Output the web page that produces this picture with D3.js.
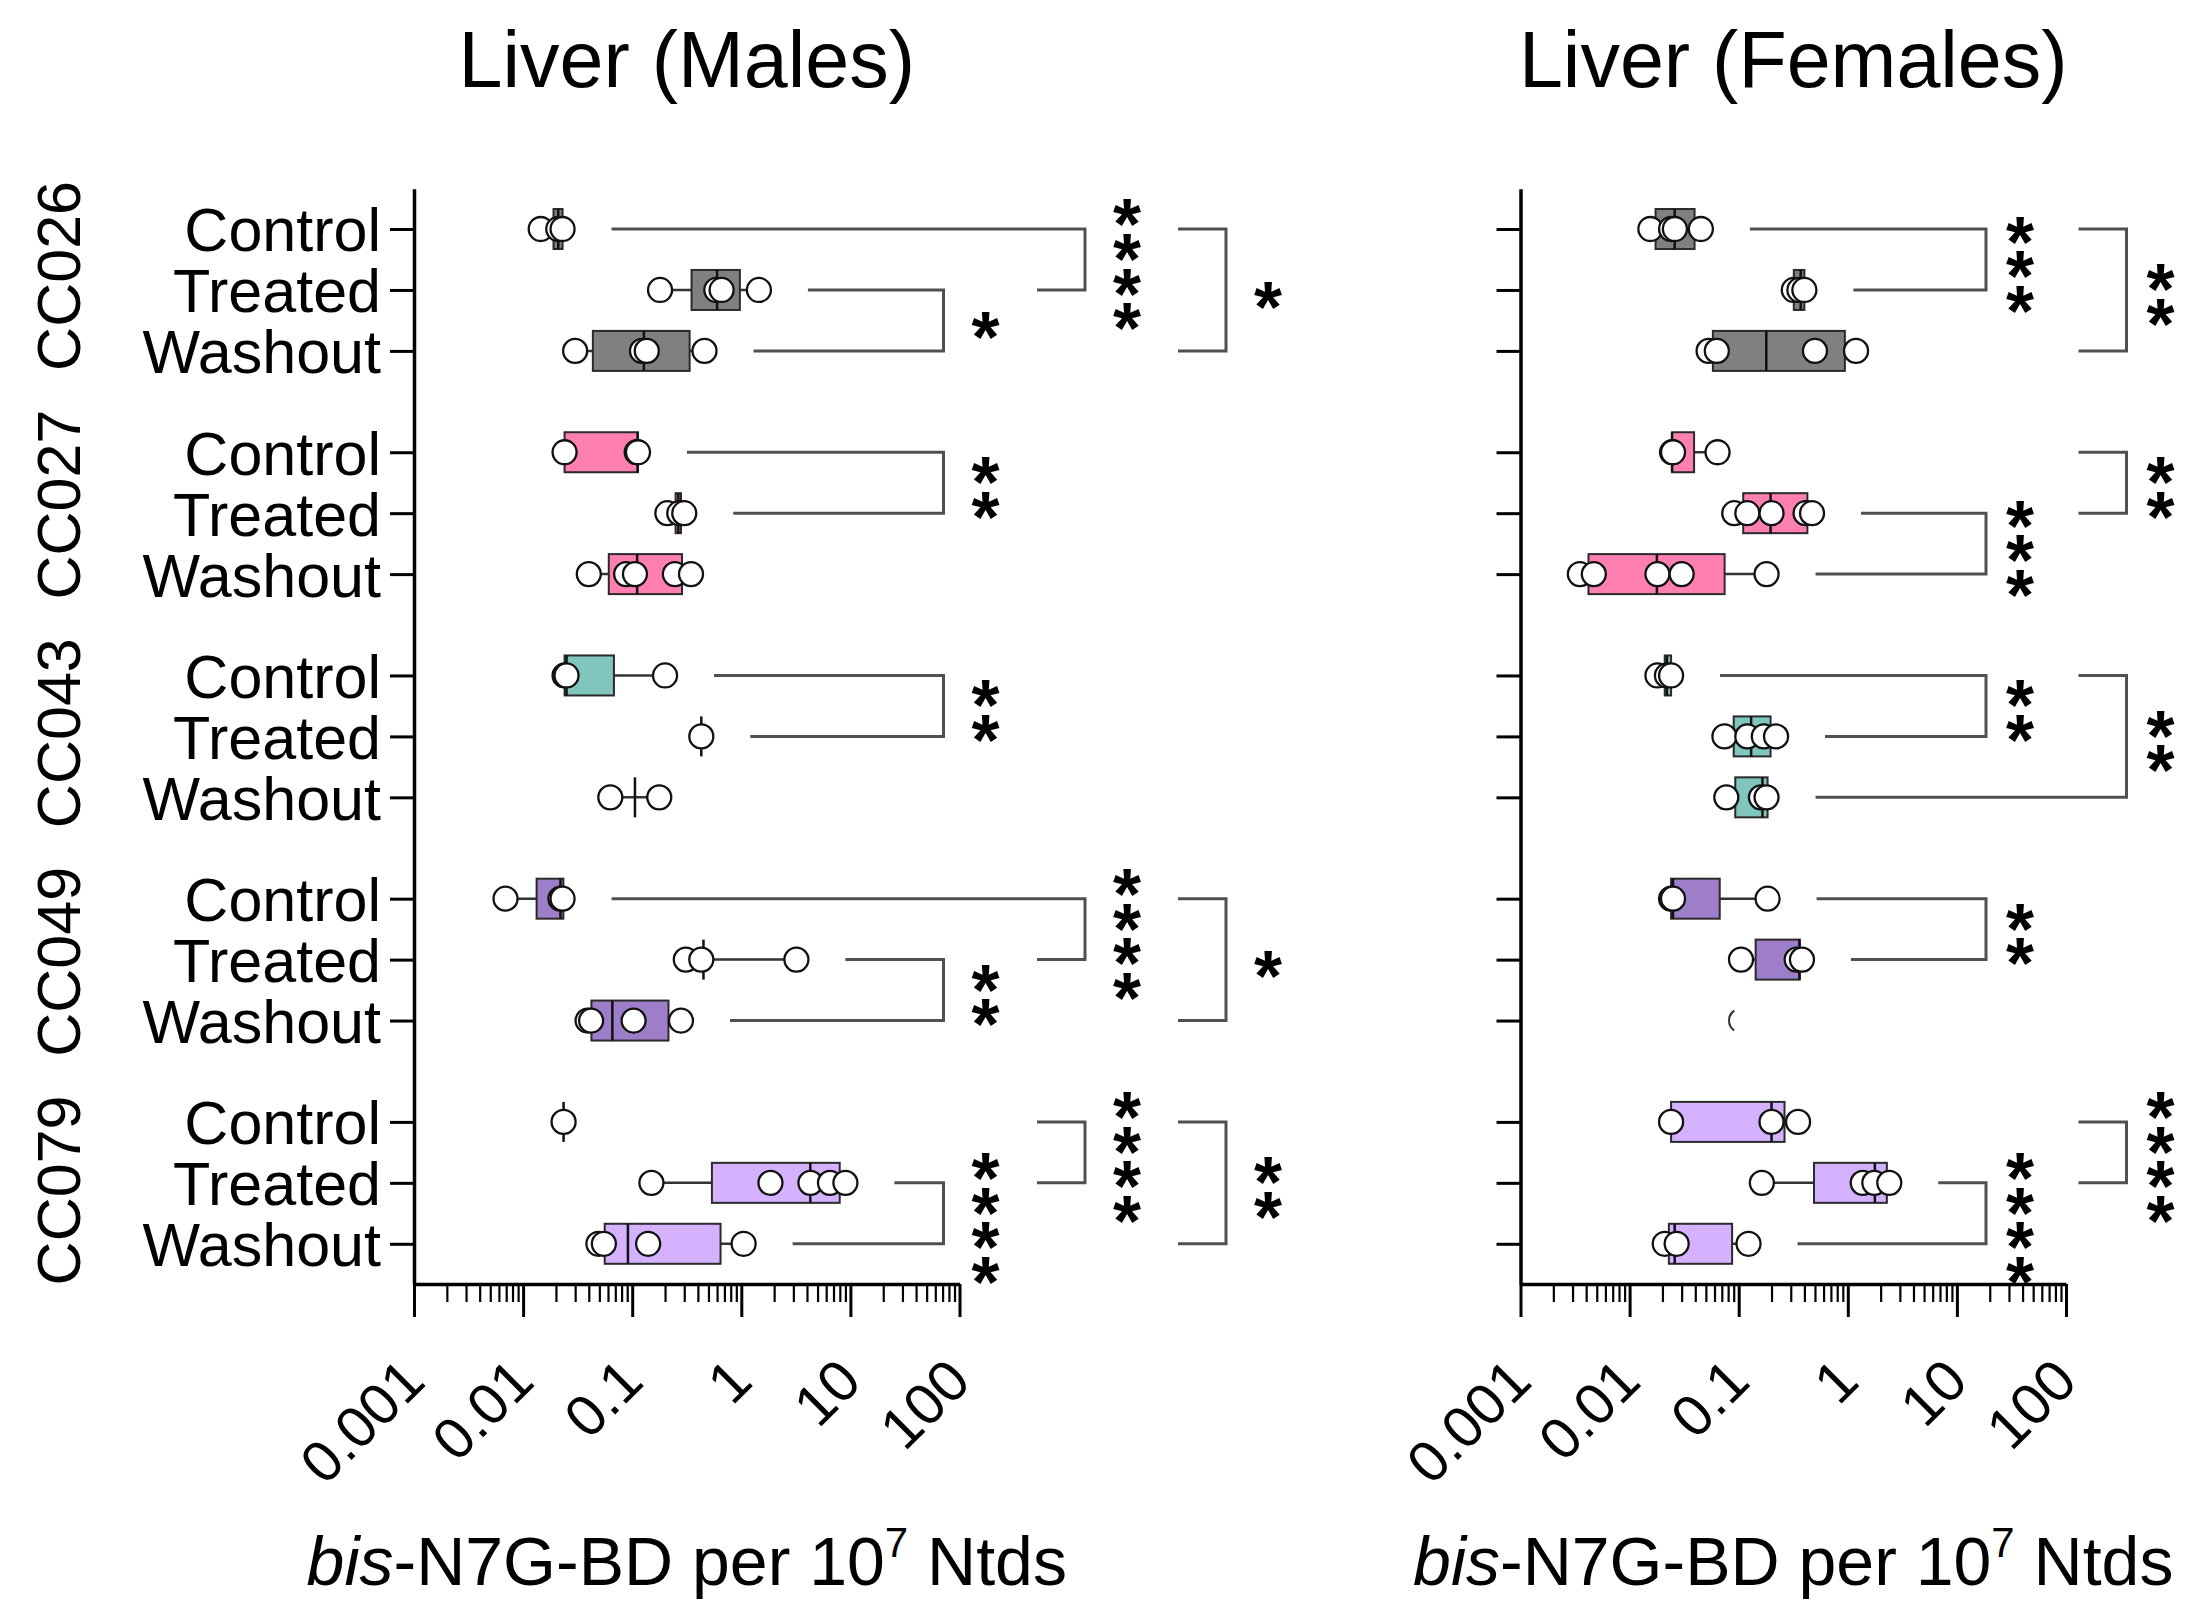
<!DOCTYPE html>
<html>
<head>
<meta charset="utf-8">
<script src="https://cdn.jsdelivr.net/npm/d3@7"></script>
<style>
  body { margin: 0; background: #fff; }
  svg { display: block; }
  text { font-family: "Liberation Sans", Arial, sans-serif; fill: #000; }
</style>
</head>
<body>
<div id="chart"></div>
<script>
//
// Liver bis-N7G-BD adducts, box plots per strain / treatment
//
var groups = ["CC026", "CC027", "CC043", "CC049", "CC079"];
var treatments = ["Control", "Treated", "Washout"];
var groupColours = ["#808080", "#ff80b0", "#80c6be", "#9e7ec8", "#d4b2ff"];
var xTickValues = [0.001, 0.01, 0.1, 1, 10, 100];

// individual animals, [group][treatment]
var malePoints = [
  [[0.0145, 0.021, 0.023], [0.18, 0.59, 0.66, 1.45], [0.030, 0.123, 0.136, 0.46]],
  [[0.024, 0.11, 0.113], [0.21, 0.27, 0.30], [0.040, 0.088, 0.106, 0.246, 0.346]],
  [[0.024, 0.025, 0.20], [0.43], [0.063, 0.177]],
  [[0.0069, 0.022, 0.023], [0.31, 0.43, 3.2], [0.039, 0.042, 0.103, 0.28]],
  [[0.0235], [0.15, 1.85, 4.3, 6.5, 9.0], [0.049, 0.055, 0.14, 1.05]]
];
// box: [q1, median, q3]
var maleBoxes = [
  [[0.019, 0.021, 0.023], [0.35, 0.60, 0.97], [0.0436, 0.128, 0.336]],
  [[0.024, 0.112, 0.113], [0.25, 0.265, 0.28], [0.061, 0.111, 0.286]],
  [[0.024, 0.025, 0.068], [0.43, 0.43, 0.43], [0.106, 0.106, 0.106]],
  [[0.0133, 0.022, 0.0234], [0.45, 0.45, 0.45], [0.0423, 0.0658, 0.215]],
  [[0.0235, 0.0235, 0.0235], [0.538, 4.29, 7.98], [0.056, 0.0914, 0.645]]
];

var femalePoints = [
  [[0.0155, 0.024, 0.026, 0.045], [0.32, 0.36, 0.40], [0.053, 0.063, 0.50, 1.19]],
  [[0.0245, 0.025, 0.064], [0.091, 0.12, 0.20, 0.41, 0.47], [0.0035, 0.0047, 0.018, 0.030, 0.18]],
  [[0.018, 0.022, 0.024], [0.074, 0.12, 0.17, 0.22], [0.077, 0.16, 0.18]],
  [[0.024, 0.025, 0.184], [0.105, 0.34, 0.38], []],
  [[0.024, 0.20, 0.35], [0.163, 1.37, 1.75, 2.4], [0.021, 0.027, 0.123]]
];
var femaleBoxes = [
  [[0.0173, 0.0259, 0.0394], [0.32, 0.37, 0.40], [0.058, 0.179, 0.94]],
  [[0.0245, 0.0245, 0.039], [0.11, 0.196, 0.426], [0.0042, 0.0178, 0.0743]],
  [[0.021, 0.022, 0.024], [0.09, 0.13, 0.196], [0.093, 0.165, 0.184]],
  [[0.024, 0.025, 0.067], [0.143, 0.36, 0.363], null],
  [[0.024, 0.20, 0.263], [0.49, 1.77, 2.28], [0.0229, 0.0259, 0.087]]
];
// marker of which only the left edge is visible: [group, treatment, value]
var femalePartial = [[3, 2, 0.105]];

// [group, rowA, rowB, column, stars, rowA line start, rowB line start]
var maleBrackets = [
  [0, 1, 2, 0, "*", "data", "data"],
  [0, 0, 1, 1, "****", "data", "short"],
  [0, 0, 2, 2, "*", "short", "short"],
  [1, 0, 1, 0, "**", "data", "data"],
  [2, 0, 1, 0, "**", "data", "data"],
  [3, 1, 2, 0, "**", "data", "data"],
  [3, 0, 1, 1, "****", "data", "short"],
  [3, 0, 2, 2, "*", "short", "short"],
  [4, 1, 2, 0, "****", "data", "data"],
  [4, 0, 1, 1, "****", "short", "short"],
  [4, 0, 2, 2, "**", "short", "short"]
];
var femaleBrackets = [
  [0, 0, 1, 0, "***", "data", "data"],
  [0, 0, 2, 1, "**", "short", "short"],
  [1, 1, 2, 0, "***", "data", "data"],
  [1, 0, 1, 1, "**", "short", "short"],
  [2, 0, 1, 0, "**", "data", "data"],
  [2, 0, 2, 1, "**", "short", "data"],
  [3, 0, 1, 0, "**", "data", "data"],
  [4, 1, 2, 0, "****", "data", "data"],
  [4, 0, 1, 1, "****", "short", "short"]
];

var width = 2193, height = 1619;
var axisTop = 188.8, axisBottom = 1284;
var boxHalf = 20, dotR = 12;

var svg = d3.select("#chart").append("svg")
  .attr("width", width)
  .attr("height", height);

// rows sit on a continuous slot scale, with a gap between strains
var groupStep = 3.663;
function slot(g, r) { return g * groupStep + r; }
var y = d3.scaleLinear()
  .domain([-0.66, slot(4, 2) + 0.66])
  .range([axisTop, axisBottom]);

var panels = [
  { title: "Liver (Males)", x0: 414, points: malePoints, boxes: maleBoxes,
    brackets: maleBrackets, cols: [943.5, 1085, 1226], starDx: 42, labels: true, partial: [] },
  { title: "Liver (Females)", x0: 1520.5, points: femalePoints, boxes: femaleBoxes,
    brackets: femaleBrackets, cols: [1986, 2126.5], starDx: 34, labels: false, partial: femalePartial }
];

panels.forEach(drawPanel);

function drawPanel(p) {
  var x = d3.scaleLog().domain([0.001, 100]).range([p.x0, p.x0 + 545.5]);
  var xMid = (x.range()[0] + x.range()[1]) / 2;
  var g = svg.append("g");

  // title
  g.append("text")
    .attr("x", xMid).attr("y", 87)
    .attr("text-anchor", "middle")
    .style("font-size", "79px")
    .text(p.title);

  // x axis, major ticks + labels
  var xg = g.append("g")
    .attr("transform", "translate(0," + axisBottom + ")")
    .call(d3.axisBottom(x).tickValues(xTickValues).tickSize(33).tickSizeOuter(0)
      .tickFormat(function(d) { return String(d); }));
  xg.attr("font-family", null).attr("font-size", null);
  xg.select(".domain").attr("stroke-width", 3.5);
  xg.selectAll(".tick line").attr("stroke-width", 3);
  xg.selectAll(".tick text")
    .attr("x", 0).attr("y", 0).attr("dy", 0)
    .attr("text-anchor", "end")
    .attr("transform", "translate(13,100) rotate(-45)")
    .attr("fill", "#000")
    .style("font-size", "58px");

  // minor ticks 2..9 per decade
  var minors = [];
  xTickValues.slice(0, -1).forEach(function(d) {
    for (var k = 2; k < 10; k++) minors.push(d * k);
  });
  var xm = g.append("g")
    .attr("transform", "translate(0," + axisBottom + ")")
    .call(d3.axisBottom(x).tickValues(minors).tickSize(18).tickSizeOuter(0).tickFormat(""));
  xm.select(".domain").remove();
  xm.selectAll(".tick line").attr("stroke-width", 2.2);

  // y axis
  var rows = [];
  groups.forEach(function(gn, gi) {
    treatments.forEach(function(t, ti) { rows.push({ g: gi, r: ti, name: t }); });
  });
  var yg = g.append("g")
    .attr("transform", "translate(" + p.x0 + ",0)")
    .call(d3.axisLeft(y).tickValues(rows.map(function(d) { return slot(d.g, d.r); }))
      .tickSize(24).tickSizeOuter(0).tickPadding(9)
      .tickFormat(function(d, i) { return p.labels ? rows[i].name : ""; }));
  yg.attr("font-family", null).attr("font-size", null);
  yg.select(".domain").attr("stroke-width", 3.5);
  yg.selectAll(".tick line").attr("stroke-width", 3);
  yg.selectAll(".tick text")
    .attr("dy", "0.36em")
    .attr("fill", "#000")
    .style("font-size", "61px");

  // strain labels
  if (p.labels) {
    g.selectAll(".strain")
      .data(groups)
      .enter().append("text")
        .attr("class", "strain")
        .attr("text-anchor", "middle")
        .attr("transform", function(d, i) {
          var cy = y(slot(i, 1)) + i * 5.4 - 14;
          return "translate(80," + cy + ") rotate(-90)";
        })
        .style("font-size", "61px")
        .text(function(d) { return d; });
  }

  // flatten the boxes
  var cells = [];
  groups.forEach(function(gn, gi) {
    treatments.forEach(function(t, ti) {
      var b = p.boxes[gi][ti];
      if (!b) return;
      var pts = p.points[gi][ti];
      cells.push({ g: gi, r: ti, cy: y(slot(gi, ti)), q1: b[0], med: b[1], q3: b[2],
        lo: d3.min(pts), hi: d3.max(pts), pts: pts, colour: groupColours[gi] });
    });
  });

  var cg = g.append("g");
  // whiskers
  cg.selectAll(".whisker")
    .data(cells)
    .enter().append("path")
      .attr("fill", "none")
      .attr("stroke", "#333")
      .attr("stroke-width", 2.5)
      .attr("d", function(d) {
        return "M" + x(d.lo) + "," + d.cy + "H" + x(d.q1) +
               "M" + x(d.q3) + "," + d.cy + "H" + x(d.hi);
      });
  // boxes
  cg.selectAll(".box")
    .data(cells.filter(function(d) { return d.q3 > d.q1; }))
    .enter().append("rect")
      .attr("x", function(d) { return x(d.q1); })
      .attr("y", function(d) { return d.cy - boxHalf; })
      .attr("width", function(d) { return x(d.q3) - x(d.q1); })
      .attr("height", boxHalf * 2)
      .attr("fill", function(d) { return d.colour; })
      .attr("stroke", "#2a2a2a")
      .attr("stroke-width", 2);
  // medians
  cg.selectAll(".median")
    .data(cells)
    .enter().append("line")
      .attr("x1", function(d) { return x(d.med); })
      .attr("x2", function(d) { return x(d.med); })
      .attr("y1", function(d) { return d.cy - boxHalf; })
      .attr("y2", function(d) { return d.cy + boxHalf; })
      .attr("stroke", "#111")
      .attr("stroke-width", 2.5);

  // individual points
  var dots = [];
  cells.forEach(function(c) {
    c.pts.forEach(function(v) { dots.push({ v: v, cy: c.cy }); });
  });
  cg.selectAll(".dot")
    .data(dots)
    .enter().append("circle")
      .attr("cx", function(d) { return x(d.v); })
      .attr("cy", function(d) { return d.cy; })
      .attr("r", dotR)
      .attr("fill", "#fff")
      .attr("stroke", "#111")
      .attr("stroke-width", 2.3);

  // partly hidden marker
  var arc = d3.arc().innerRadius(dotR).outerRadius(dotR)
    .startAngle(1.19 * Math.PI).endAngle(1.81 * Math.PI);
  cg.selectAll(".partial")
    .data(p.partial)
    .enter().append("path")
      .attr("transform", function(d) { return "translate(" + x(d[2]) + "," + y(slot(d[0], d[1])) + ")"; })
      .attr("d", arc())
      .attr("fill", "none")
      .attr("stroke", "#333")
      .attr("stroke-width", 2);

  // significance brackets
  var bg = g.append("g");
  p.brackets.forEach(function(b) {
    var gi = b[0], col = p.cols[b[3]];
    var ya = y(slot(gi, b[1])), yb = y(slot(gi, b[2]));
    function start(r, mode) {
      return mode === "data" ? x(d3.max(p.points[gi][r])) + 49 : col - 48;
    }
    bg.append("path")
      .attr("fill", "none")
      .attr("stroke", "#505050")
      .attr("stroke-width", 3)
      .attr("d", "M" + start(b[1], b[5]) + "," + ya + "H" + col + "V" + yb + "H" + start(b[2], b[6]));

    // stars stacked vertically, one text element per bracket
    var n = b[4].length, centre = (ya + yb) / 2, fs = 72, step = 34.6;
    var st = bg.append("text")
      .attr("text-anchor", "middle")
      .style("font-size", fs + "px")
      .style("font-weight", "bold");
    d3.range(n).forEach(function(k) {
      st.append("tspan")
        .attr("x", col + p.starDx)
        .attr("y", centre + (k - (n - 1) / 2) * step + 0.58 * fs)
        .text("*");
    });
  });

  // x axis title
  var t = g.append("text")
    .attr("x", xMid).attr("y", 1585)
    .attr("text-anchor", "middle")
    .style("font-size", "68px");
  t.append("tspan").style("font-style", "italic").text("bis");
  t.append("tspan").text("-N7G-BD per 10");
  t.append("tspan").attr("dy", -28).style("font-size", "42px").text("7");
  t.append("tspan").attr("dy", 28).text(" Ntds");
}
</script>
</body>
</html>
